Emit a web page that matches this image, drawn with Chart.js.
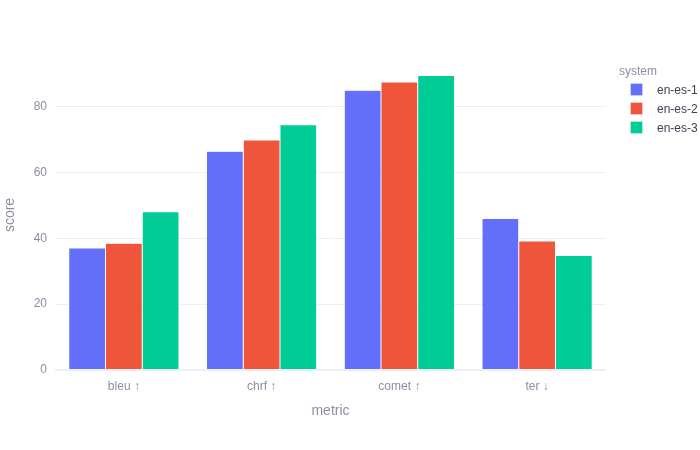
<!DOCTYPE html>
<html>
<head>
<meta charset="utf-8">
<script src="https://cdn.jsdelivr.net/npm/chart.js@4/dist/chart.umd.min.js"></script>
<style>
html,body{margin:0;padding:0;background:#fff;}
canvas{display:block;}
</style>
</head>
<body>
<canvas id="c" width="700" height="450"></canvas>
<script>
const categories = ["bleu \u2191", "chrf \u2191", "comet \u2191", "ter \u2193"];
const seriesNames = ["en-es-1", "en-es-2", "en-es-3"];
const enEs1 = [37.1, 66.5, 85.0, 46.0];
const enEs2 = [38.5, 69.9, 87.5, 39.2];
const enEs3 = [48.1, 74.5, 89.5, 34.8];
const yTicks = [0, 20, 40, 60, 80];
const colors = ["#636efa", "#EF553B", "#00cc96"];

const FONT = "Arial, 'Liberation Sans', sans-serif";
const GREY = "#8a8fa3";
const DARK = "#3b4254";

const seriesValues = [enEs1, enEs2, enEs3];

const legendPlugin = {
  id: 'customLegend',
  afterDraw(chart) {
    const ctx = chart.ctx;
    ctx.save();
    ctx.font = "12px " + FONT;
    ctx.textBaseline = 'middle';
    ctx.textAlign = 'left';
    ctx.fillStyle = GREY;
    ctx.fillText("system", 619, 72);
    chart.data.datasets.forEach((ds, i) => {
      const cy = 89.5 + i * 19;
      ctx.fillStyle = ds.backgroundColor;
      ctx.fillRect(630.5, cy - 6, 12, 12);
      ctx.strokeStyle = "rgba(255,255,255,0.6)";
      ctx.lineWidth = 0.5;
      ctx.strokeRect(630.5, cy - 6, 12, 12);
      ctx.fillStyle = DARK;
      ctx.fillText(ds.label, 657, cy + 1);
    });
    ctx.restore();
  }
};

new Chart(document.getElementById('c'), {
  type: 'bar',
  data: {
    labels: categories,
    datasets: seriesNames.map((n, i) => ({
      label: n,
      data: seriesValues[i],
      backgroundColor: colors[i],
      borderColor: "rgba(255,255,255,0.7)",
      borderWidth: 0.5,
      categoryPercentage: 0.8,
      barPercentage: 1.0
    }))
  },
  options: {
    responsive: false,
    animation: false,
    devicePixelRatio: 1,
    layout: { padding: { top: 60, right: 94, left: 0, bottom: 0 } },
    plugins: {
      legend: { display: false },
      tooltip: { enabled: false }
    },
    scales: {
      x: {
        grid: { display: false, drawTicks: false },
        border: { display: false },
        ticks: { color: GREY, font: { family: FONT, size: 12 }, padding: 9 },
        title: { display: true, text: "metric", color: GREY, font: { family: FONT, size: 14 }, padding: { top: 0, bottom: 30 } },
        afterFit(s) { s.height = 80; }
      },
      y: {
        min: 0,
        max: 94.2,
        grid: {
          color: "#EBF0F8",
          lineWidth: (c) => (c.tick && c.tick.value === 0 ? 2 : 1),
          drawTicks: false
        },
        border: { display: false },
        afterBuildTicks(s) { s.ticks = yTicks.map(v => ({ value: v })); },
        ticks: { color: GREY, font: { family: FONT, size: 12 }, padding: 8, includeBounds: false },
        title: { display: true, text: "score", color: GREY, font: { family: FONT, size: 14 }, padding: { top: 2, bottom: 0 } },
        afterFit(s) { s.width = 55; }
      }
    }
  },
  plugins: [legendPlugin]
});
</script>
</body>
</html>
